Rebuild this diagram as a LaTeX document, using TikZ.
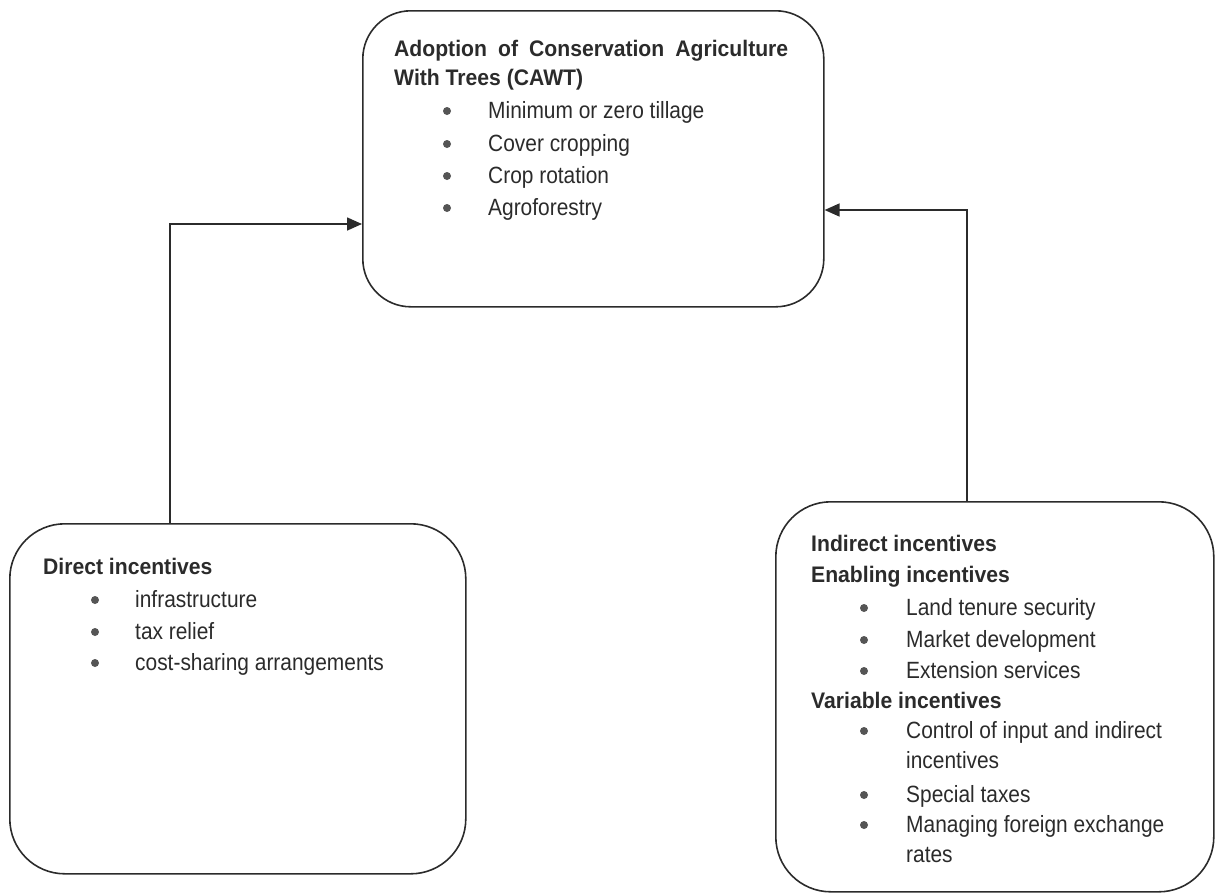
\documentclass[tikz,border=0pt]{standalone}
\usepackage{fontspec}
\setmainfont{Liberation Sans}
\newfontfamily\regf[FakeStretch=0.89]{Liberation Sans}
\newfontfamily\headf[FakeStretch=0.94]{Liberation Sans}
\usetikzlibrary{arrows.meta}
\definecolor{ink}{HTML}{2B2B2B}
\definecolor{bulletc}{HTML}{555555}
\tikzset{
  box/.style={draw=ink, line width=1.6pt, rounded corners=48pt, anchor=north west, inner sep=0pt},
  txt/.style={anchor=base west, inner sep=0pt, text=ink, font=\regf\fontsize{23.5}{27}\selectfont},
  head/.style={anchor=base west, inner sep=0pt, text=ink, font=\headf\fontsize{22.5}{26}\selectfont\bfseries},
  bul/.style={circle, fill=bulletc, inner sep=0pt, minimum size=8pt},
  arr/.style={draw=ink, line width=1.6pt, -{Triangle[length=15pt,width=13pt]}}
}
\begin{document}
\begin{tikzpicture}[x=1pt,y=-1pt]
\useasboundingbox (0,0) rectangle (1218,892);
% boxes
\node[box, minimum width=461pt, minimum height=296pt] (top) at (362,10) {};
\node[box, minimum width=456pt, minimum height=350pt, rounded corners=55pt] (left) at (9,523) {};
\node[box, minimum width=438pt, minimum height=390pt, rounded corners=55pt] (right) at (775,501) {};
% top box text
\node[head] (h1) at (394,56) {\makebox[394pt][s]{Adoption of Conservation Agriculture}};
\node[head] (h2) at (394,85) {With Trees (CAWT)};
\node[bul] (b1) at (447,111) {};
\node[txt] (t1) at (488,118) {Minimum or zero tillage};
\node[bul] (b2) at (447,144) {};
\node[txt] (t2) at (488,151) {Cover cropping};
\node[bul] (b3) at (447,176) {};
\node[txt] (t3) at (488,183) {Crop rotation};
\node[bul] (b4) at (447,208) {};
\node[txt] (t4) at (488,215) {Agroforestry};
% left box text
\node[head] (dh) at (43,574) {Direct incentives};
\node[bul] (db1) at (95,600) {};
\node[txt] (d1) at (135,607) {infrastructure};
\node[bul] (db2) at (95,632) {};
\node[txt] (d2) at (135,639) {tax relief};
\node[bul] (db3) at (95,663) {};
\node[txt] (d3) at (135,670) {cost-sharing arrangements};
% right box text
\node[head] (ih) at (811,551) {Indirect incentives};
\node[head] (eh) at (811,582) {Enabling incentives};
\node[bul] (eb1) at (864,608) {};
\node[txt] (e1) at (906,615) {Land tenure security};
\node[bul] (eb2) at (864,640) {};
\node[txt] (e2) at (906,647) {Market development};
\node[bul] (eb3) at (864,671) {};
\node[txt] (e3) at (906,678) {Extension services};
\node[head] (vh) at (811,708) {Variable incentives};
\node[bul] (vb1) at (864,731) {};
\node[txt] (v1) at (906,738) {Control of input and indirect};
\node[txt] (v1b) at (906,768) {incentives};
\node[bul] (vb2) at (864,795) {};
\node[txt] (v2) at (906,802) {Special taxes};
\node[bul] (vb3) at (864,825) {};
\node[txt] (v3) at (906,832) {Managing foreign exchange};
\node[txt] (v3b) at (906,862) {rates};
% connectors
\coordinate (lbend) at (170,224);
\coordinate (rbend) at (967,210);
\draw[arr] (lbend |- left.north) -- (lbend) -- (lbend -| top.west);
\draw[arr] (rbend |- right.north) -- (rbend) -- (rbend -| top.east);
\end{tikzpicture}
\end{document}
